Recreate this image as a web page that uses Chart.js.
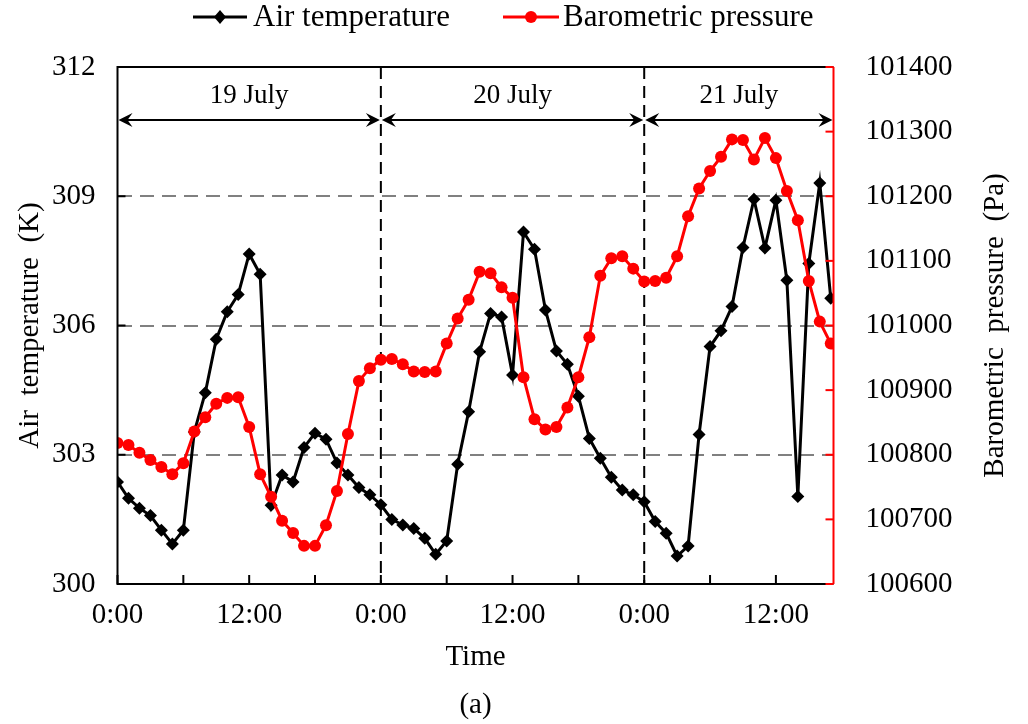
<!DOCTYPE html>
<html>
<head>
<meta charset="utf-8">
<script src="https://cdn.jsdelivr.net/npm/chart.js@4.4.1/dist/chart.umd.min.js"></script>
<style>
  html, body { margin: 0; padding: 0; background: #fff; }
</style>
</head>
<body>
<canvas id="myLineChart" width="1028" height="724"></canvas>
<script>
// Hourly readings, 19 July 0:00 -> 21 July 17:00
const airTemp = [
  302.37, 301.99, 301.76, 301.59, 301.25, 300.93, 301.25, 303.53, 304.44, 305.68, 306.32, 306.72,
  307.66, 307.19, 301.83, 302.53, 302.37, 303.17, 303.50, 303.36, 302.81, 302.53, 302.24, 302.07,
  301.84, 301.50, 301.37, 301.29, 301.06, 300.69, 301.00, 302.78, 304.00, 305.39, 306.28, 306.20,
  304.85, 308.17, 307.77, 306.36, 305.41, 305.10, 304.36, 303.38, 302.92, 302.48, 302.18, 302.07,
  301.91, 301.45, 301.18, 300.65, 300.88, 303.47, 305.51, 305.88, 306.44, 307.81, 308.93, 307.80,
  308.91, 307.05, 302.03, 307.44, 309.31, 306.63
];
const pressure = [
  100818, 100815, 100803, 100792, 100781, 100770, 100787, 100836, 100858, 100879, 100888, 100889,
  100843, 100770, 100735, 100698, 100679, 100659, 100659, 100691, 100744, 100832, 100914, 100934,
  100947, 100948, 100940, 100929, 100928, 100929, 100972, 101011, 101040, 101083, 101081, 101059,
  101043, 100920, 100855, 100839, 100843, 100873, 100920, 100982, 101077, 101104, 101107, 101088,
  101068, 101069, 101074, 101107, 101169, 101212, 101239, 101261, 101288, 101287, 101257, 101290,
  101259, 101208, 101163, 101069, 101006, 100972
];
const dayStarts = [0, 24, 48];           // hours since 19 July 0:00
const dayLabels = ['19 July', '20 July', '21 July'];
const tempTicks = [300, 303, 306, 309, 312];

const serif = "'Liberation Serif', 'Times New Roman', serif";
const hours = airTemp.map((_, i) => i);

function arrowHead(ctx, x, y, dir) {
  ctx.beginPath();
  ctx.moveTo(x, y);
  ctx.lineTo(x - dir * 14, y - 7);
  ctx.lineTo(x - dir * 9, y);
  ctx.lineTo(x - dir * 14, y + 7);
  ctx.closePath();
  ctx.fill();
}

// day separators, frame, inner ticks, day arrows, legend and axis titles
const extras = {
  id: 'extras',
  beforeDatasetsDraw(chart) {
    const { ctx, chartArea: a, scales: { x } } = chart;
    ctx.save();
    ctx.strokeStyle = '#000';
    ctx.lineWidth = 2;
    ctx.setLineDash([12, 7]);
    dayStarts.slice(1).forEach(h => {
      const px = x.getPixelForValue(h);
      ctx.beginPath();
      ctx.moveTo(px, a.top);
      ctx.lineTo(px, a.bottom);
      ctx.stroke();
    });
    ctx.restore();
  },
  afterDraw(chart) {
    const { ctx, chartArea: a, scales: { x, y, y1 } } = chart;
    ctx.save();
    ctx.lineWidth = 2;

    // frame
    ctx.strokeStyle = '#000';
    ctx.beginPath();
    ctx.moveTo(a.right, a.top); ctx.lineTo(a.left, a.top);
    ctx.lineTo(a.left, a.bottom); ctx.lineTo(a.right, a.bottom);
    ctx.stroke();
    // inner ticks, left and bottom
    tempTicks.forEach(v => {
      const py = y.getPixelForValue(v);
      ctx.beginPath(); ctx.moveTo(a.left, py); ctx.lineTo(a.left + 8, py); ctx.stroke();
    });
    for (let h = 0; h <= x.max; h += 6) {
      const px = x.getPixelForValue(h);
      ctx.beginPath(); ctx.moveTo(px, a.bottom); ctx.lineTo(px, a.bottom - 9); ctx.stroke();
    }
    // right axis in red
    ctx.strokeStyle = '#ff0000';
    ctx.beginPath(); ctx.moveTo(a.right, a.top); ctx.lineTo(a.right, a.bottom); ctx.stroke();
    for (let v = y1.min; v <= y1.max; v += 100) {
      const py = y1.getPixelForValue(v);
      ctx.beginPath(); ctx.moveTo(a.right, py); ctx.lineTo(a.right - 8, py); ctx.stroke();
    }

    // day arrows
    ctx.strokeStyle = '#000';
    ctx.fillStyle = '#000';
    ctx.font = '27px ' + serif;
    ctx.textAlign = 'center';
    ctx.textBaseline = 'middle';
    const arrowY = a.top + 53;
    dayStarts.forEach((h, i) => {
      const x0 = x.getPixelForValue(h);
      const x1 = i + 1 < dayStarts.length ? x.getPixelForValue(dayStarts[i + 1]) : a.right;
      ctx.beginPath(); ctx.moveTo(x0 + 4, arrowY); ctx.lineTo(x1 - 4, arrowY); ctx.stroke();
      arrowHead(ctx, x0 + 1, arrowY, -1);
      arrowHead(ctx, x1 - 1, arrowY, 1);
      ctx.fillText(dayLabels[i], (x0 + x1) / 2, a.top + 29);
    });

    // legend
    ctx.font = '31px ' + serif;
    ctx.textAlign = 'left';
    ctx.lineWidth = 3;
    const ly = 17;
    ctx.strokeStyle = '#000';
    ctx.beginPath(); ctx.moveTo(193, ly); ctx.lineTo(247, ly); ctx.stroke();
    ctx.beginPath();
    ctx.moveTo(220, ly - 7); ctx.lineTo(226, ly); ctx.lineTo(220, ly + 7); ctx.lineTo(214, ly);
    ctx.closePath(); ctx.fill();
    ctx.fillText('Air temperature', 253, ly + 1);
    ctx.strokeStyle = '#ff0000';
    ctx.fillStyle = '#ff0000';
    ctx.beginPath(); ctx.moveTo(503, ly); ctx.lineTo(559, ly); ctx.stroke();
    ctx.beginPath(); ctx.arc(531, ly, 6, 0, Math.PI * 2); ctx.fill();
    ctx.fillStyle = '#000';
    ctx.fillText('Barometric pressure', 563, ly + 1);

    // axis titles
    ctx.font = '29px ' + serif;
    ctx.textAlign = 'center';
    const midX = (a.left + a.right) / 2;
    const midY = (a.top + a.bottom) / 2;
    ctx.fillText('Time', midX, 657);
    ctx.fillText('(a)', midX, 705);
    ctx.save();
    ctx.translate(30, midY);
    ctx.rotate(-Math.PI / 2);
    ctx.fillText('Air  temperature  (K)', 0, 0);
    ctx.restore();
    ctx.save();
    ctx.translate(995, midY);
    ctx.rotate(-Math.PI / 2);
    ctx.fillText('Barometric  pressure  (Pa)', 0, 0);
    ctx.restore();

    ctx.restore();
  }
};

const tickFont = { family: serif, size: 29 };

const ctxLine = document.getElementById('myLineChart').getContext('2d');
const myLineChart = new Chart(ctxLine, {
  type: 'line',
  data: {
    datasets: [
      {
        label: 'Air temperature',
        data: hours.map(h => ({ x: h, y: airTemp[h] })),
        yAxisID: 'y',
        borderColor: '#000',
        backgroundColor: '#000',
        borderWidth: 3,
        pointStyle: 'rectRot',
        pointRadius: 6.5,
        pointBorderWidth: 0,
        order: 1,
      },
      {
        label: 'Barometric pressure',
        data: hours.map(h => ({ x: h, y: pressure[h] })),
        yAxisID: 'y1',
        borderColor: '#ff0000',
        backgroundColor: '#ff0000',
        borderWidth: 3,
        pointStyle: 'circle',
        pointRadius: 6,
        pointBorderWidth: 0,
        order: 0,
      }
    ]
  },
  options: {
    responsive: false,
    animation: false,
    layout: { padding: { top: 67, left: 0, right: 0, bottom: 0 } },
    plugins: { legend: { display: false }, tooltip: { enabled: false } },
    scales: {
      x: {
        type: 'linear',
        min: 0,
        max: 65.25,
        grid: { display: false },
        border: { display: false },
        ticks: {
          stepSize: 12,
          includeBounds: false,
          autoSkip: false,
          maxRotation: 0,
          padding: 6,
          color: '#000',
          font: tickFont,
          callback: v => (v % 24 === 0 ? '0:00' : '12:00'),
        },
        afterFit: s => { s.height = 140; },
      },
      y: {
        position: 'left',
        min: 300,
        max: 312,
        grid: {
          drawTicks: false,
          lineWidth: 2,
          color: c => (c.tick.value === 300 || c.tick.value === 312 ? 'rgba(0,0,0,0)' : '#808080'),
        },
        border: { display: false, dash: [14, 8] },
        ticks: { stepSize: 3, padding: 22, color: '#000', font: tickFont },
        afterFit: s => { s.width = 117.5; },
      },
      y1: {
        position: 'right',
        min: 100600,
        max: 101400,
        grid: { display: false },
        border: { display: false },
        ticks: { stepSize: 100, padding: 24, color: '#000', font: tickFont, callback: v => String(v) },
        afterFit: s => { s.width = 194.5; },
      }
    }
  },
  plugins: [extras]
});
</script>
</body>
</html>
